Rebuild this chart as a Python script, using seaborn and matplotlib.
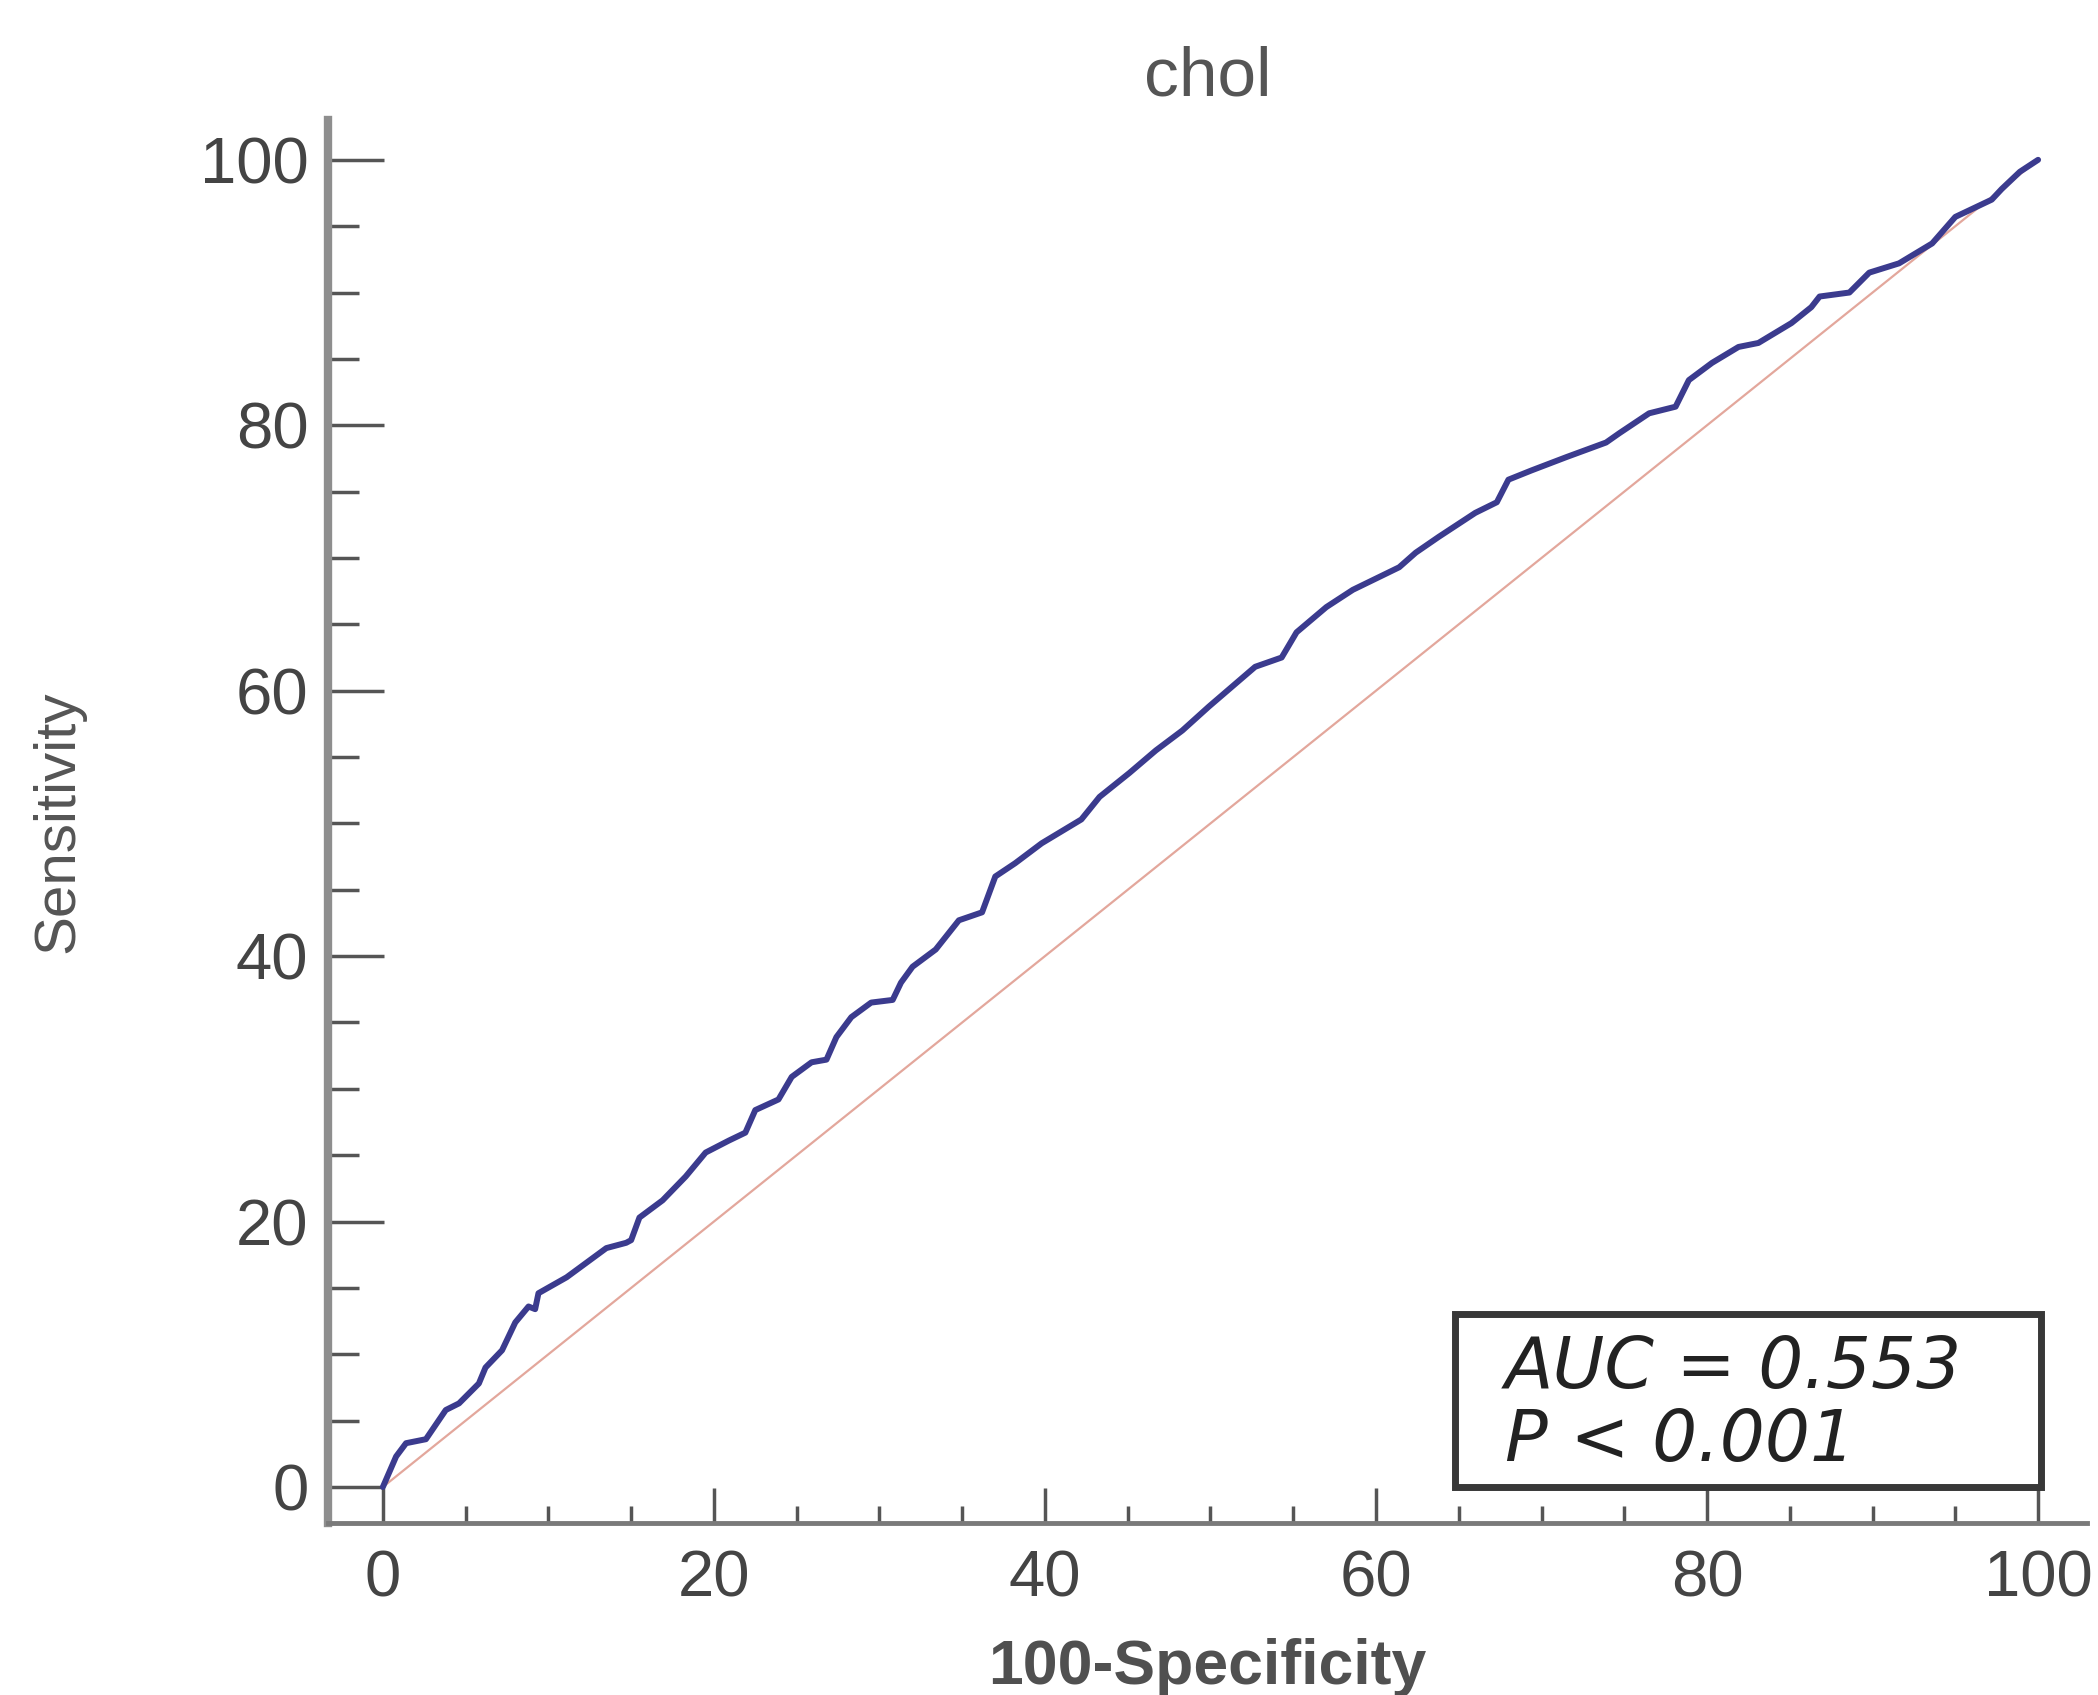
import matplotlib
matplotlib.use('Agg')
import matplotlib.pyplot as plt
from matplotlib.patches import Rectangle
from matplotlib.ticker import MultipleLocator
import pandas as pd
import seaborn as sns

# ROC curve points (100-Specificity, Sensitivity)
fpr = [0, 0.8, 1.4, 2.6, 3.8, 4.6, 5.8, 6.2, 7.2, 8.0, 8.8, 9.2, 9.4, 11.1, 12.3,
       13.5, 14.7, 15.0, 15.5, 16.9, 18.3, 19.5, 20.9, 21.9, 22.5, 23.9, 24.7,
       25.9, 26.8, 27.4, 28.3, 29.5, 30.8, 31.3, 32.0, 33.4, 34.8, 36.2, 37.0,
       38.2, 39.8, 41.4, 42.2, 43.3, 45.1, 46.7, 48.3, 49.9, 51.3, 52.7, 54.3,
       55.2, 57.0, 58.6, 61.4, 62.4, 63.8, 66.0, 67.3, 68.0, 69.4, 71.5, 73.9,
       74.7, 76.5, 78.1, 78.9, 80.3, 81.9, 83.1, 85.1, 86.3, 86.8, 88.6, 89.8,
       91.6, 93.6, 95.0, 97.2, 97.8, 98.9, 100]
tpr = [0, 2.3, 3.3, 3.6, 5.8, 6.3, 7.8, 9.0, 10.3, 12.4, 13.6, 13.4, 14.6, 15.8, 16.9,
       18.0, 18.4, 18.6, 20.3, 21.6, 23.4, 25.2, 26.1, 26.7, 28.4, 29.2, 30.9,
       32.0, 32.2, 33.9, 35.4, 36.5, 36.7, 38.0, 39.2, 40.5, 42.7, 43.3, 46.0,
       47.0, 48.5, 49.7, 50.3, 52.0, 53.8, 55.5, 57.0, 58.8, 60.3, 61.8, 62.5,
       64.4, 66.3, 67.6, 69.3, 70.4, 71.6, 73.4, 74.2, 75.9, 76.6, 77.6, 78.7,
       79.4, 80.9, 81.4, 83.4, 84.7, 85.9, 86.2, 87.7, 88.9, 89.7, 90.0, 91.5,
       92.2, 93.7, 95.7, 97.0, 97.8, 99.1, 100]
diag = [0, 100]
ticks = [0, 20, 40, 60, 80, 100]

title = 'chol'
auc_text = 'AUC = 0.553'
p_text = 'P < 0.001'

sns.set_style('white')
plt.rcParams['font.family'] = ['Liberation Sans', 'DejaVu Sans']

df = pd.DataFrame({'fpr': fpr, 'tpr': tpr})

fig = plt.figure(figsize=(20.98, 16.95), dpi=100)
ax = fig.add_axes([0.1563, 0.1015, 0.8385, 0.8277])

# reference diagonal
sns.lineplot(x=diag, y=diag, ax=ax, color='#e3a79c', linewidth=1.6)
# ROC curve
sns.lineplot(data=df, x='fpr', y='tpr', ax=ax, sort=False, estimator=None,
             color='#3b3b8e', linewidth=4.3)

ax.set_xlim(-3.32, 102.96)
ax.set_ylim(-2.71, 103.0)
ax.set_xticks(ticks)
ax.set_yticks(ticks)
ax.xaxis.set_minor_locator(MultipleLocator(5))
ax.yaxis.set_minor_locator(MultipleLocator(5))

for s in ['top', 'right']:
    ax.spines[s].set_visible(False)
ax.spines['left'].set_color('#8e8e8e')
ax.spines['left'].set_linewidth(6)
ax.spines['bottom'].set_color('#7a7a7a')
ax.spines['bottom'].set_linewidth(3.5)

ax.tick_params(axis='y', which='major', direction='in', length=40, width=2.5,
               color='#555555', labelsize=47, labelcolor='#444444', pad=14)
ax.tick_params(axis='y', which='minor', direction='in', length=22, width=2.5,
               color='#555555')
ax.tick_params(axis='x', which='major', direction='in', length=25, width=2.5,
               color='#555555', labelsize=47, labelcolor='#444444', pad=19)
ax.tick_params(axis='x', which='minor', direction='in', length=12, width=2.5,
               color='#555555')
ax.tick_params(left=True, bottom=True, which='both')

ax.set_title(title, fontsize=50, color='#555555', pad=18)
ax.set_xlabel('100-Specificity', fontsize=45, fontweight='bold', color='#505050')
ax.xaxis.set_label_coords(0.5, -0.082)
ax.set_ylabel('Sensitivity', fontsize=42, color='#555555')
ax.yaxis.set_label_coords(-0.138, 0.5)

# AUC box
ax.add_patch(Rectangle((64.8, 0), 35.4, 13.0, fill=False, edgecolor='#383838',
                       linewidth=5, zorder=5, clip_on=False))
ax.text(67.8, 8.9, auc_text, fontsize=51, style='italic', family='DejaVu Sans',
        color='#222222', va='center', ha='left', zorder=6)
ax.text(67.8, 3.4, p_text, fontsize=51, style='italic', family='DejaVu Sans',
        color='#222222', va='center', ha='left', zorder=6)

fig.savefig('out.png', dpi=100)
